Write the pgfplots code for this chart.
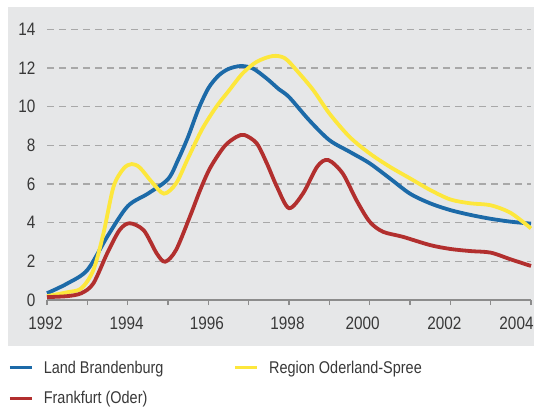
\documentclass[border=0pt]{standalone}
\usepackage{pgfplots}
\pgfplotsset{compat=1.18}
\usepackage{fontspec}
\setmainfont{Liberation Sans}[FakeStretch=0.85]
\definecolor{bgpanel}{HTML}{E6E7E8}
\definecolor{cblue}{HTML}{1C6AA8}
\definecolor{cyellow}{HTML}{FDE73C}
\definecolor{cred}{HTML}{B22F2E}
\definecolor{ctext}{HTML}{383838}
\definecolor{cgrid}{HTML}{A8A8A8}
\definecolor{caxis}{HTML}{8C8C8C}
\newcommand{\sh}[2]{\makebox[0pt]{\kern#1pt #2}}

\pgfplotstableread{
x y
1992.0 0.35
1992.5 0.85
1993.0 1.55
1993.5 3.3
1994.0 4.85
1994.5 5.5
1995.0 6.25
1995.25 7.25
1995.5 8.45
1995.75 9.85
1996.0 10.95
1996.25 11.6
1996.5 11.95
1996.8 12.1
1997.1 11.98
1997.45 11.45
1997.75 10.9
1998.0 10.5
1998.5 9.3
1999.0 8.27
1999.5 7.67
2000.0 7.07
2000.5 6.29
2001.0 5.5
2001.5 5.0
2002.0 4.65
2002.5 4.4
2003.0 4.2
2003.5 4.05
2004.0 3.95
}\brandenburg

\pgfplotstableread{
x y
1992.0 0.2
1992.5 0.4
1992.85 0.6
1993.15 1.55
1993.4 3.45
1993.65 5.86
1993.9 6.8
1994.1 7.03
1994.3 6.85
1994.6 6.1
1994.9 5.5
1995.2 6.03
1995.5 7.35
1995.85 8.85
1996.2 10.0
1996.5 10.8
1996.85 11.72
1997.2 12.32
1997.6 12.62
1997.9 12.5
1998.2 11.85
1998.6 10.86
1999.0 9.65
1999.5 8.44
2000.0 7.58
2000.5 6.89
2001.0 6.29
2001.5 5.69
2002.0 5.2
2002.5 5.0
2003.0 4.9
2003.5 4.5
2004.0 3.7
}\oderland

\pgfplotstableread{
x y
1992.0 0.15
1992.5 0.2
1992.85 0.35
1993.15 0.86
1993.5 2.45
1993.8 3.62
1994.05 3.97
1994.4 3.6
1994.72 2.41
1994.93 1.98
1995.2 2.59
1995.55 4.35
1995.8 5.7
1996.05 6.85
1996.4 7.95
1996.7 8.44
1996.9 8.53
1997.2 8.1
1997.45 7.07
1997.7 5.86
1998.0 4.75
1998.35 5.52
1998.7 6.9
1998.97 7.24
1999.33 6.55
1999.67 5.17
2000.0 4.05
2000.33 3.53
2000.82 3.27
2001.5 2.84
2002.0 2.64
2002.5 2.53
2003.0 2.45
2003.5 2.1
2004.0 1.76
}\frankfurt

\begin{document}
\begin{tikzpicture}[x=1pt,y=1pt]
\path[use as bounding box] (-47,-108) rectangle (487,300);
\fill[white] (-47,-108) rectangle (487,300);
\fill[bgpanel] (-39,-46) rectangle (490,292.7);
\begin{axis}[
  at={(0,0)}, anchor=south west,
  scale only axis, width=484pt, height=270.7pt,
  xmin=1992, xmax=2004, ymin=0, ymax=14,
  axis lines*=left,
  axis line style={-},
  x axis line style={caxis, line width=1.2pt},
  y axis line style={draw=none},
  xtick={1992,1993,...,2004},
  xticklabels={\sh{-3}{1992},,\sh{-2}{1994},,\sh{-3}{1996},,\sh{-3}{1998},,\sh{-14}{2000},,\sh{-12}{2002},,\sh{-29}{2004}},
  ytick={0,2,...,14},
  tick align=outside,
  major tick length=5pt,
  x tick style={caxis, line width=1.2pt},
  y tick style={draw=none},
  ymajorgrids,
  grid style={cgrid, line width=1.3pt, dash pattern=on 7pt off 5pt},
  /pgf/number format/assume math mode=true,
  tick label style={font=\fontsize{18}{18}\selectfont, text=ctext},
  xticklabel style={yshift=-8pt},
  yticklabel style={xshift=-3pt},
  legend columns=2,
  legend cell align=left,
  legend image code/.code={\draw[#1, line width=3.5pt] (0pt,0pt) -- (22pt,0pt); \path (30pt,0pt);},
  legend style={at={(axis description cs:-0.0806,-0.216)}, anchor=north west,
    draw=none, fill=none, inner sep=0pt,
    font=\fontsize{17}{17}\selectfont, text=ctext,
    /tikz/every even column/.append style={column sep=68pt},
    row sep=13pt},
  clip=false,
]
\addplot[cblue, line width=3.8pt, smooth] table {\brandenburg};
\addlegendentry{Land Brandenburg}
\addplot[cyellow, line width=3.8pt, smooth] table {\oderland};
\addlegendentry{Region Oderland-Spree}
\addplot[cred, line width=3.8pt, smooth] table {\frankfurt};
\addlegendentry{Frankfurt (Oder)}
\end{axis}
\end{tikzpicture}
\end{document}
